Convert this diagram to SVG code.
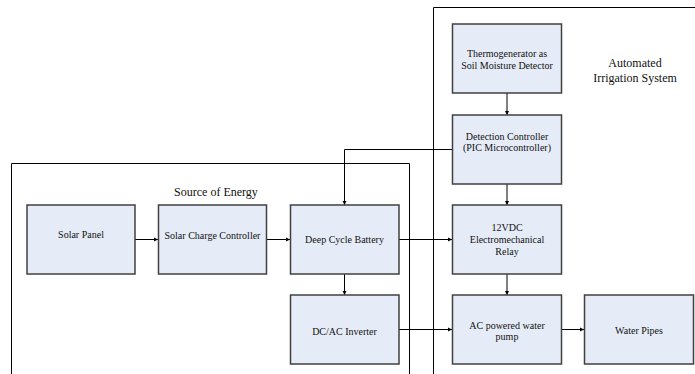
<svg xmlns="http://www.w3.org/2000/svg" width="695" height="374" viewBox="0 0 695 374">
<style>
.node{fill:#E6ECF7;stroke:#404040;stroke-width:1.5}
.grp{fill:none;stroke:#000;stroke-width:1}
.t{font-family:"Liberation Serif","Times New Roman",serif;font-size:10px;fill:#111;text-anchor:middle}
.g{font-family:"Liberation Serif","Times New Roman",serif;font-size:12px;fill:#111;text-anchor:middle}
.c{fill:none;stroke:#000;stroke-width:1}
</style>
<defs>
<marker id="ah" viewBox="0 0 8 8" refX="8" refY="4" markerWidth="4.5" markerHeight="4.5" orient="auto" markerUnits="userSpaceOnUse">
<path d="M0,0 L8,4 L0,8 z" fill="#000"/>
</marker>
</defs>
<rect width="695" height="374" fill="#fff"/>
<g id="source-of-energy">
<path class="grp" d="M11.5,380 V163.5 H409.5 V380"/>
<text class="g" x="216" y="196">Source of Energy</text>
</g>
<g id="automated-irrigation-system">
<path class="grp" d="M433.5,380 V7.5 H700"/>
<text class="g" x="635" y="67">Automated</text>
<text class="g" x="635" y="82">Irrigation System</text>
</g>
<g id="connectors">
<line class="c" x1="135" y1="239.5" x2="158" y2="239.5" marker-end="url(#ah)"/>
<line class="c" x1="267" y1="239.5" x2="290" y2="239.5" marker-end="url(#ah)"/>
<line class="c" x1="399" y1="239.5" x2="452" y2="239.5" marker-end="url(#ah)"/>
<line class="c" x1="344.5" y1="274" x2="344.5" y2="295" marker-end="url(#ah)"/>
<line class="c" x1="399" y1="329.5" x2="452" y2="329.5" marker-end="url(#ah)"/>
<line class="c" x1="562" y1="329.5" x2="584" y2="329.5" marker-end="url(#ah)"/>
<line class="c" x1="507" y1="93" x2="507" y2="115" marker-end="url(#ah)"/>
<line class="c" x1="507" y1="184" x2="507" y2="205" marker-end="url(#ah)"/>
<line class="c" x1="507" y1="274" x2="507" y2="295" marker-end="url(#ah)"/>
<path class="c" d="M452,149.5 H344.5 V205" marker-end="url(#ah)"/>
</g>
<g id="solar-panel">
<rect class="node" x="27" y="205" width="108" height="69"/>
<text class="t" x="81" y="238">Solar Panel</text>
</g>
<g id="solar-charge-controller">
<rect class="node" x="158.5" y="205" width="108" height="69"/>
<text class="t" x="212.5" y="238.5">Solar Charge Controller</text>
</g>
<g id="deep-cycle-battery">
<rect class="node" x="290.5" y="205" width="108.5" height="69"/>
<text class="t" x="344.5" y="243">Deep Cycle Battery</text>
</g>
<g id="dc-ac-inverter">
<rect class="node" x="290.5" y="295" width="108.5" height="69"/>
<text class="t" x="344.5" y="334.5">DC/AC Inverter</text>
</g>
<g id="thermogenerator">
<rect class="node" x="452.5" y="24" width="109" height="69"/>
<text class="t" x="507" y="57">Thermogenerator as</text>
<text class="t" x="507" y="68.5">Soil Moisture Detector</text>
</g>
<g id="detection-controller">
<rect class="node" x="452.5" y="115" width="109" height="69"/>
<text class="t" x="507" y="139.5">Detection Controller</text>
<text class="t" x="507" y="151">(PIC Microcontroller)</text>
</g>
<g id="relay">
<rect class="node" x="452.5" y="205" width="109" height="69"/>
<text class="t" x="507" y="231">12VDC</text>
<text class="t" x="507" y="243">Electromechanical</text>
<text class="t" x="507" y="255">Relay</text>
</g>
<g id="ac-pump">
<rect class="node" x="452.5" y="295" width="109" height="69"/>
<text class="t" x="507" y="328.5">AC powered water</text>
<text class="t" x="507" y="340">pump</text>
</g>
<g id="water-pipes">
<rect class="node" x="584.5" y="295" width="109" height="69"/>
<text class="t" x="639" y="333.5">Water Pipes</text>
</g>
</svg>
